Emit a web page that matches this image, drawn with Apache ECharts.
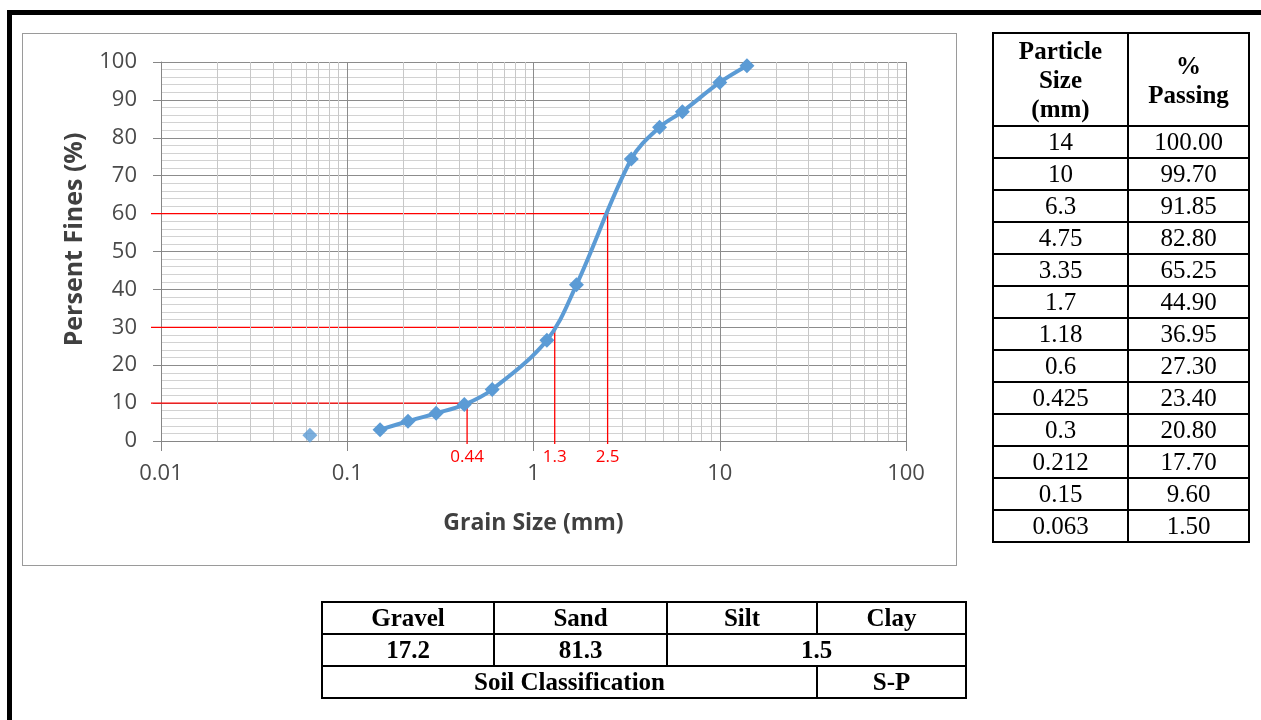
<!DOCTYPE html>
<html>
<head>
<meta charset="utf-8">
<script src="https://cdn.jsdelivr.net/npm/echarts@6/dist/echarts.min.js"></script>
<style>
  body { margin: 0; background: #fff; }
  #wrap { position: relative; width: 1261px; height: 720px; overflow: hidden; background: #fff; }
  #main { position: absolute; left: 0; top: 0; width: 1261px; height: 720px; }
  .frame { position: absolute; left: 7px; top: 10px; width: 1400px; height: 900px;
           border-left: 5px solid #000; border-top: 5px solid #000; pointer-events: none; }
  .chartbox { position: absolute; left: 22px; top: 33px; width: 933px; height: 531px;
              border: 1px solid #9a9a9a; pointer-events: none; }
  table { position: absolute; border-collapse: collapse; font-family: "Liberation Serif", serif; color: #000; }
  td { border: 2px solid #000; text-align: center; padding: 0; }
  #sieve { left: 992px; top: 32px; width: 258px; }
  #sieve td { height: 30px; font-size: 25px; line-height: 28px; }
  #sieve td.hd { height: 91px; font-weight: bold; font-size: 25px; line-height: 29px; }
  #summary { left: 321px; top: 601px; width: 646px; font-weight: bold; }
  #summary td { height: 30px; font-size: 25px; line-height: 28px; }
</style>
</head>
<body>
<div id="wrap">
  <div id="main"></div>
  <div class="frame"></div>
  <div class="chartbox"></div>
  <table id="sieve"></table>
  <table id="summary"></table>
</div>
<script>
// grain size distribution
var grainSize = [0.15, 0.212, 0.3, 0.425, 0.6, 1.18, 1.7, 3.35, 4.75, 6.3, 10, 14];
var percentFines = [3.0, 5.2, 7.3, 9.6, 13.6, 26.6, 41.2, 74.4, 82.8, 86.9, 94.6, 99.0];
// pan (0.063 mm) point, plotted on its own
var panSize = [0.063];
var panFines = [1.5];

// D10 / D30 / D60 guide lines
var refSize = [0.44, 1.3, 2.5];
var refPct = [10, 30, 60];
var refLabels = ['0.44', '1.3', '2.5'];

var xTickLabels = ['0.01', '0.1', '1', '10', '100'];
var xDecades = [0.01, 0.1, 1, 10];

// table on the right
var tableSize = ['14', '10', '6.3', '4.75', '3.35', '1.7', '1.18', '0.6', '0.425', '0.3', '0.212', '0.15', '0.063'];
var tablePassing = ['100.00', '99.70', '91.85', '82.80', '65.25', '44.90', '36.95', '27.30', '23.40', '20.80', '17.70', '9.60', '1.50'];

// summary table
var fracNames = ['Gravel', 'Sand', 'Silt', 'Clay'];
var fracValues = ['17.2', '81.3', '1.5'];
var soilClass = 'S-P';

// build the tables
var html = '<tr><td class="hd" style="width:133px">Particle<br>Size<br>(mm)</td><td class="hd">%<br>Passing</td></tr>';
for (var i = 0; i < tableSize.length; i++) {
    html += '<tr><td>' + tableSize[i] + '</td><td>' + tablePassing[i] + '</td></tr>';
}
document.getElementById('sieve').innerHTML = html;

document.getElementById('summary').innerHTML =
    '<tr><td style="width:170px">' + fracNames[0] + '</td><td style="width:171px">' + fracNames[1] +
    '</td><td style="width:148px">' + fracNames[2] + '</td><td>' + fracNames[3] + '</td></tr>' +
    '<tr><td>' + fracValues[0] + '</td><td>' + fracValues[1] + '</td><td colspan="2">' + fracValues[2] + '</td></tr>' +
    '<tr><td colspan="3">Soil Classification</td><td>' + soilClass + '</td></tr>';

// minor vertical grid (2..9 of each decade)
var minorX = [];
xDecades.forEach(function (d) {
    for (var m = 2; m <= 9; m++) minorX.push({xAxis: +(m * d).toPrecision(3)});
});

var curve = grainSize.map(function (s, i) { return [s, percentFines[i]]; });
var pan = panSize.map(function (s, i) { return [s, panFines[i]]; });
var refs = refSize.map(function (s, i) { return [s, refPct[i], refLabels[i]]; });

var myChart = echarts.init(document.getElementById('main'));
var option = {
    backgroundColor: '#fff',
    animation: false,
    grid: {left: 161, right: 355, top: 62, bottom: 279},
    xAxis: {
        type: 'log', logBase: 10, min: 0.01, max: 100,
        name: 'Grain Size (mm)', nameLocation: 'middle', nameGap: 71,
        nameTextStyle: {fontFamily: 'Open Sans', fontWeight: 'bold', fontSize: 23, color: '#404040'},
        axisLine: {lineStyle: {color: '#868686'}},
        axisTick: {show: true, length: 10, lineStyle: {color: '#868686'}},
        axisLabel: {
            margin: 22, fontFamily: 'Open Sans', fontSize: 22, color: '#4a4a4a',
            formatter: function (v) { return xTickLabels[Math.round(Math.log10(v)) + 2]; }
        },
        splitLine: {show: true, lineStyle: {color: '#8c8c8c'}}
    },
    yAxis: {
        type: 'value', min: 0, max: 100, interval: 10,
        name: 'Persent Fines (%)', nameLocation: 'middle', nameGap: 74,
        nameTextStyle: {fontFamily: 'Open Sans', fontWeight: 'bold', fontSize: 25, color: '#404040',
                        padding: [0, 0, 0, 24]},
        axisLine: {show: true, lineStyle: {color: '#868686'}},
        axisTick: {show: true, length: 8, lineStyle: {color: '#868686'}},
        axisLabel: {margin: 24, fontFamily: 'Open Sans', fontSize: 22, color: '#4a4a4a'},
        splitLine: {show: true, lineStyle: {color: '#8c8c8c'}},
        minorTick: {show: false, splitNumber: 5},
        minorSplitLine: {show: true, lineStyle: {color: '#d2d2d2'}}
    },
    series: [
        {
            type: 'line', data: [], silent: true, z: 1,
            markLine: {
                silent: true, symbol: 'none', animation: false,
                label: {show: false},
                lineStyle: {color: '#c8c8c8', width: 1, type: 'solid'},
                data: minorX
            }
        },
        {
            type: 'custom', z: 3, silent: true, data: refs,
            renderItem: function (params, api) {
                var p = api.coord([api.value(0), api.value(1)]);
                var base = api.coord([api.value(0), 0]);
                var left = api.coord([0.01, api.value(1)]);
                var red = {stroke: '#ff0000', lineWidth: 1.3, fill: null};
                return {
                    type: 'group',
                    children: [
                        {type: 'polyline', shape: {points: [[left[0] - 10, p[1]], p, [p[0], base[1] + 3]]}, style: red},
                        {type: 'text', x: p[0], y: base[1] + 16, style: {
                            text: api.value(2), fill: '#ff0000', font: '17px "Open Sans"',
                            align: 'center', verticalAlign: 'middle'}}
                    ]
                };
            },
            encode: {x: 0, y: 1}
        },
        {
            type: 'line', z: 5, data: curve, smooth: 0.35,
            symbol: 'diamond', symbolSize: 15,
            lineStyle: {color: '#5b9bd5', width: 4},
            itemStyle: {color: '#5b9bd5'}
        },
        {
            type: 'scatter', z: 5, data: pan,
            symbol: 'diamond', symbolSize: 15,
            itemStyle: {color: '#5b9bd5'}
        }
    ]
};
myChart.setOption(option);
window.addEventListener('resize', function () {
    myChart.resize();
});
</script>
</body>
</html>
